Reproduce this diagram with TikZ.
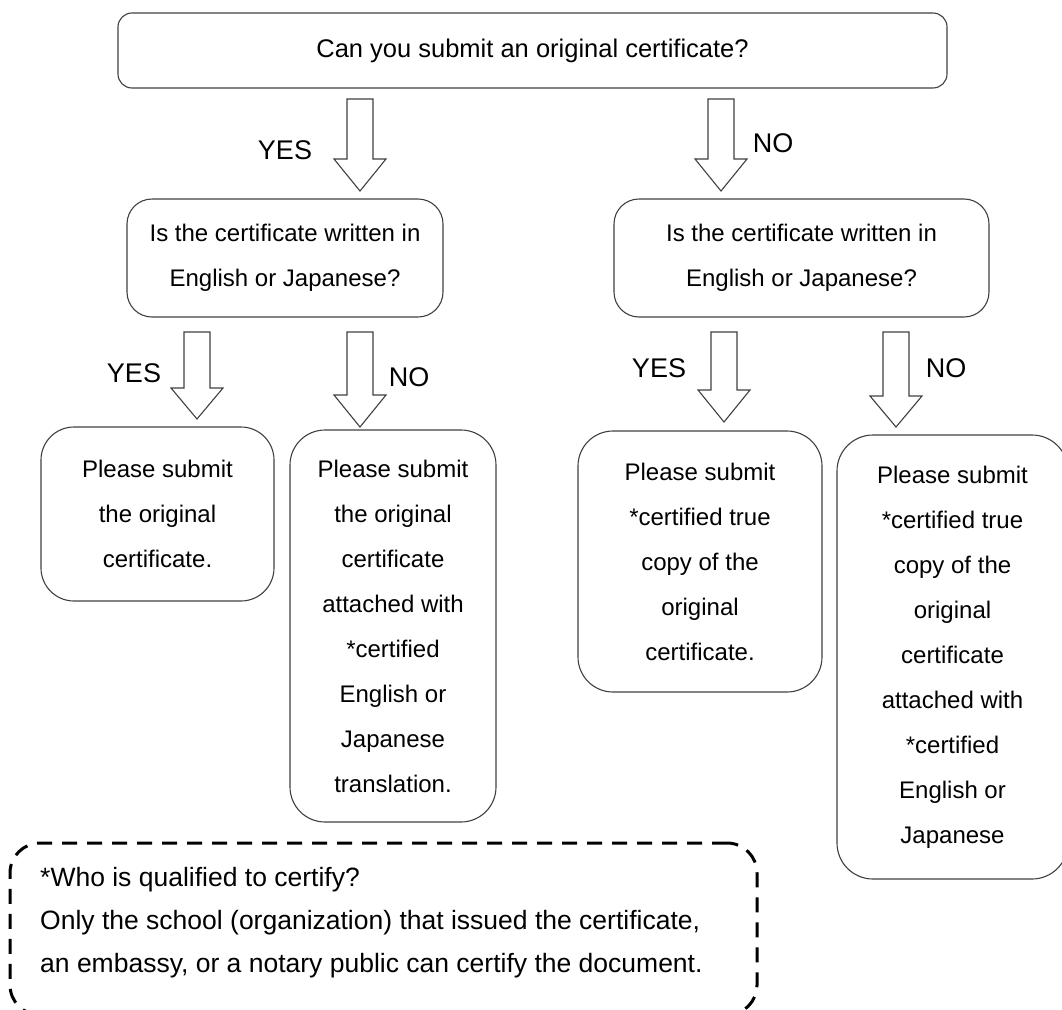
\documentclass[tikz,border=0pt]{standalone}
\usepackage{fontspec}
\setmainfont{Liberation Sans}
\begin{document}
\begin{tikzpicture}[x=1pt,y=-1pt,
  box/.style={draw=black!75, line width=1.1pt, align=center, inner sep=0pt,
    font=\fontsize{24}{45}\selectfont},
  lbl/.style={font=\fontsize{27}{30}\selectfont, inner sep=0pt},
  barrow/.style={draw=black!75, line width=1.1pt, fill=white, line join=miter}
]
\useasboundingbox (0,0) rectangle (1062,1009);
\newcommand\blockarr[4]{%
  \draw[barrow] (#1-13,#2) -- (#1+13,#2) -- (#1+13,#3) -- (#1+26,#3) -- (#1,#4)
    -- (#1-26,#3) -- (#1-13,#3) -- cycle;}

% boxes
\node[box, rounded corners=14pt, minimum width=829pt, minimum height=75pt] (q0) at (532.5,50.5)
  {\fontsize{25.5}{30}\selectfont Can you submit an original certificate?};
\node[box, rounded corners=25pt, minimum width=316pt, minimum height=118pt] (q1) at (285,258)
  {Is the certificate written in\\English or Japanese?};
\node[box, rounded corners=25pt, minimum width=375pt, minimum height=118pt] (q2) at (801.5,258)
  {Is the certificate written in\\English or Japanese?};
\node[box, rounded corners=33pt, minimum width=233pt, minimum height=174pt] (a1) at (157.5,514)
  {Please submit\\the original\\certificate.};
\node[box, rounded corners=35pt, minimum width=206pt, minimum height=392pt] (a2) at (393,626)
  {Please submit\\the original\\certificate\\attached with\\*certified\\English or\\Japanese\\translation.};
\node[box, rounded corners=35pt, minimum width=244pt, minimum height=261pt] (a3) at (700,561.5)
  {Please submit\\*certified true\\copy of the\\original\\certificate.};
\node[box, rounded corners=36pt, minimum width=231pt, minimum height=444pt] (a4) at (952.5,657)
  {Please submit\\*certified true\\copy of the\\original\\certificate\\attached with\\*certified\\English or\\Japanese};

% block arrows
\blockarr{360}{99}{159}{191}
\blockarr{721}{99}{159}{191}
\blockarr{197}{332}{388}{419}
\blockarr{360}{332}{395}{427}
\blockarr{724}{332}{390}{422}
\blockarr{896}{332}{396}{427}

% labels
\node[lbl] (y0) at (285,150) {YES};
\node[lbl] (n0) at (773,143) {NO};
\node[lbl] (y1) at (134,373) {YES};
\node[lbl] (n1) at (409,377) {NO};
\node[lbl] (y2) at (659,368) {YES};
\node[lbl] (n2) at (946,368) {NO};

% note
\node[draw=black, line width=3pt, dash pattern=on 15pt off 10pt, rounded corners=30pt,
  minimum width=747pt, minimum height=172pt, inner sep=0pt] (note) at (383.5,929) {};
\node[anchor=west, inner sep=0pt, align=left, font=\fontsize{26.5}{43}\selectfont] (notetext) at (40,923)
  {*Who is qualified to certify?\\Only the school (organization) that issued the certificate,\\an embassy, or a notary public can certify the document.};
\end{tikzpicture}
\end{document}
